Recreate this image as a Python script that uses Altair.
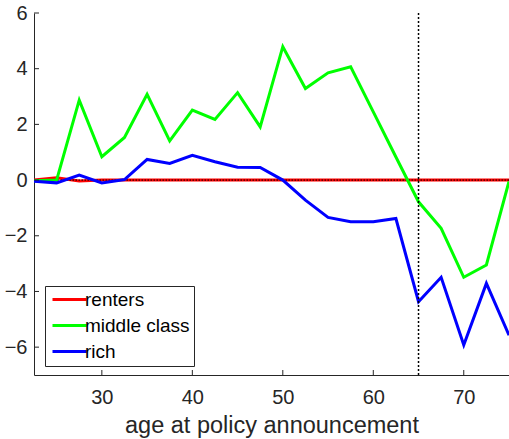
import altair as alt
import pandas as pd

# Age at policy announcement (years)
ages = [22.5, 25, 27.5, 30, 32.5, 35, 37.5, 40, 42.5, 45, 47.5,
        50, 52.5, 55, 57.5, 60, 62.5, 65, 67.5, 70, 72.5, 75]

renters = [0.0, 0.08, -0.03, 0.0, 0.0, 0.0, 0.0, 0.0, 0.0, 0.0, 0.0,
           0.0, 0.0, 0.0, 0.0, 0.0, 0.0, 0.0, 0.0, 0.0, 0.0, 0.0]
middle_class = [-0.02, 0.0, 2.87, 0.84, 1.53, 3.08, 1.41, 2.51, 2.18, 3.14, 1.91,
                4.79, 3.29, 3.85, 4.07, 2.45, 0.83, -0.78, -1.73, -3.49, -3.05, -0.05]
rich = [-0.04, -0.1, 0.18, -0.1, 0.02, 0.74, 0.6, 0.89, 0.66, 0.46, 0.45,
        0.0, -0.72, -1.34, -1.5, -1.5, -1.38, -4.37, -3.49, -5.92, -3.71, -5.57]

groups = ["renters", "middle class", "rich"]
colors = ["#ff0000", "#00ff00", "#0000ff"]

x_ticks = [30, 40, 50, 60, 70]
y_ticks = [-6, -4, -2, 0, 2, 4, 6]
retirement_age = [65]
baseline = [0]

rows = []
for name, series in zip(groups, [renters, middle_class, rich]):
    for a, v in zip(ages, series):
        rows.append({"age": a, "value": v, "group": name})
df = pd.DataFrame(rows)

W, H = 475, 362
AXIS_COLOR = "#262626"
FONT = "Liberation Sans"

x_scale = alt.Scale(domain=[22.5, 75], nice=False, zero=False)
y_scale = alt.Scale(domain=[-7, 6], nice=False, zero=False)

x_axis = alt.Axis(values=x_ticks, title="age at policy announcement", grid=False,
                  tickSize=0, labelPadding=12, labelFontSize=20,
                  titleFontSize=23.5, titleFontWeight="normal", titlePadding=6,
                  labelFont=FONT, titleFont=FONT,
                  labelColor=AXIS_COLOR, titleColor=AXIS_COLOR,
                  domainColor=AXIS_COLOR, domainWidth=1)
y_axis = alt.Axis(values=y_ticks, title=None, grid=False,
                  tickSize=0, labelPadding=7, labelFontSize=20, labelFont=FONT,
                  labelColor=AXIS_COLOR, domainColor=AXIS_COLOR, domainWidth=1)

# legend swatch: a long horizontal stroke, drawn to the right of a compact symbol box
swatch = "M-1,0H4.67"

color = alt.Color(
    "group:N",
    scale=alt.Scale(domain=groups, range=colors),
    legend=alt.Legend(
        title=None, orient="none", legendX=11, legendY=273,
        symbolType=swatch, symbolStrokeWidth=3, symbolSize=144,
        labelFontSize=19, labelFont=FONT, labelColor="#000000",
        labelOffset=17, rowPadding=6, padding=4,
        strokeColor=AXIS_COLOR, fillColor="white",
    ),
)

base_df = df[df.group == "renters"]

red = alt.Chart(base_df).mark_line(strokeWidth=3, clip=True).encode(
    x=alt.X("age:Q", scale=x_scale, axis=x_axis),
    y=alt.Y("value:Q", scale=y_scale, axis=y_axis),
    color=color,
)

zero_line = alt.Chart(pd.DataFrame({"y": baseline})).mark_rule(
    color="black", strokeWidth=1, strokeDash=[1.5, 1.5]
).encode(y=alt.Y("y:Q", scale=y_scale))

others = alt.Chart(df[df.group != "renters"]).mark_line(strokeWidth=3, clip=True).encode(
    x=alt.X("age:Q", scale=x_scale),
    y=alt.Y("value:Q", scale=y_scale),
    color=alt.Color("group:N", scale=alt.Scale(domain=groups, range=colors)),
)

vline = alt.Chart(pd.DataFrame({"x": retirement_age})).mark_rule(
    color="black", strokeWidth=1.5, strokeDash=[2, 2]
).encode(x=alt.X("x:Q", scale=x_scale))

# inward-pointing tick marks, as drawn in the classic boxed-axis style
x_tick_marks = alt.Chart(pd.DataFrame({"t": x_ticks})).mark_rule(
    color=AXIS_COLOR, strokeWidth=1
).encode(x=alt.X("t:Q", scale=x_scale), y=alt.value(H), y2=alt.value(H - 5))

y_tick_marks = alt.Chart(pd.DataFrame({"t": y_ticks})).mark_rule(
    color=AXIS_COLOR, strokeWidth=1
).encode(y=alt.Y("t:Q", scale=y_scale), x=alt.value(0), x2=alt.value(5))

chart = alt.layer(
    red, zero_line, others, vline, x_tick_marks, y_tick_marks
).properties(
    width=W, height=H,
    padding={"left": 34, "top": 13, "right": 0, "bottom": 64},
    autosize=alt.AutoSizeParams(type="none"),
    background="white",
).configure_view(stroke=None)

chart.save("out.html", embed_options={"renderer": "svg", "actions": False})
